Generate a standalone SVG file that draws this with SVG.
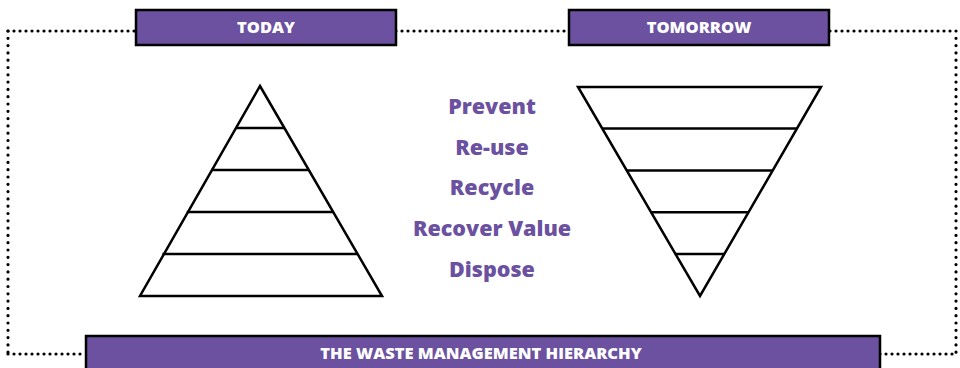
<svg xmlns="http://www.w3.org/2000/svg" width="960" height="368" viewBox="0 0 960 368">
<style>
.box{fill:#6b519f;stroke:#000;stroke-width:2.5}
.lbl{font-family:"Open Sans","Liberation Sans",sans-serif;font-weight:800;font-size:16.5px;fill:#fff;text-anchor:middle}
.lvl{font-family:"Open Sans","Liberation Sans",sans-serif;font-weight:800;font-size:21.5px;fill:#6b519f;text-anchor:middle}
.dh{fill:none;stroke:#000;stroke-width:3.2;stroke-linecap:round;stroke-dasharray:0 6}
.dv{fill:none;stroke:#000;stroke-width:3.2;stroke-linecap:round;stroke-dasharray:0 7.3}
.tri{fill:none;stroke:#000;stroke-width:2.5;stroke-linejoin:miter}
.bar{stroke:#000;stroke-width:2.5}
</style>
<g id="connectors">
<path class="dh" d="M8 31 H136"/>
<path class="dh" d="M396 31 H569"/>
<path class="dh" d="M830 31 H956"/>
<path class="dv" d="M8 31 V354"/>
<path class="dv" d="M956 31 V354"/>
<path class="dh" d="M8 354 H86"/>
<path class="dh" d="M880 354 H956"/>
</g>
<g id="today">
<rect class="box" x="136" y="10" width="260" height="35"/>
<text class="lbl" x="266" y="33">TODAY</text>
</g>
<g id="tomorrow">
<rect class="box" x="569" y="10" width="260" height="35"/>
<text class="lbl" x="699" y="33">TOMORROW</text>
</g>
<g id="title">
<rect class="box" x="86" y="336" width="794" height="40"/>
<text class="lbl" x="481" y="359">THE WASTE MANAGEMENT HIERARCHY</text>
</g>
<g id="pyramid-today">
<polygon class="tri" points="260,86 382,296 140,296"/>
<line class="bar" x1="235.6" y1="128" x2="284.4" y2="128"/>
<line class="bar" x1="211.2" y1="170" x2="308.8" y2="170"/>
<line class="bar" x1="186.8" y1="212" x2="333.2" y2="212"/>
<line class="bar" x1="162.4" y1="254" x2="357.6" y2="254"/>
</g>
<g id="pyramid-tomorrow">
<polygon class="tri" points="578,87 821,87 700,296"/>
<line class="bar" x1="602.2" y1="128.6" x2="796.8" y2="128.6"/>
<line class="bar" x1="626.4" y1="170.4" x2="772.6" y2="170.4"/>
<line class="bar" x1="650.6" y1="212.2" x2="748.4" y2="212.2"/>
<line class="bar" x1="674.8" y1="254" x2="724.2" y2="254"/>
</g>
<g id="levels">
<text class="lvl" x="492" y="114">Prevent</text>
<text class="lvl" x="492" y="155">Re-use</text>
<text class="lvl" x="492" y="195">Recycle</text>
<text class="lvl" x="492" y="236">Recover Value</text>
<text class="lvl" x="492" y="277">Dispose</text>
</g>
</svg>
